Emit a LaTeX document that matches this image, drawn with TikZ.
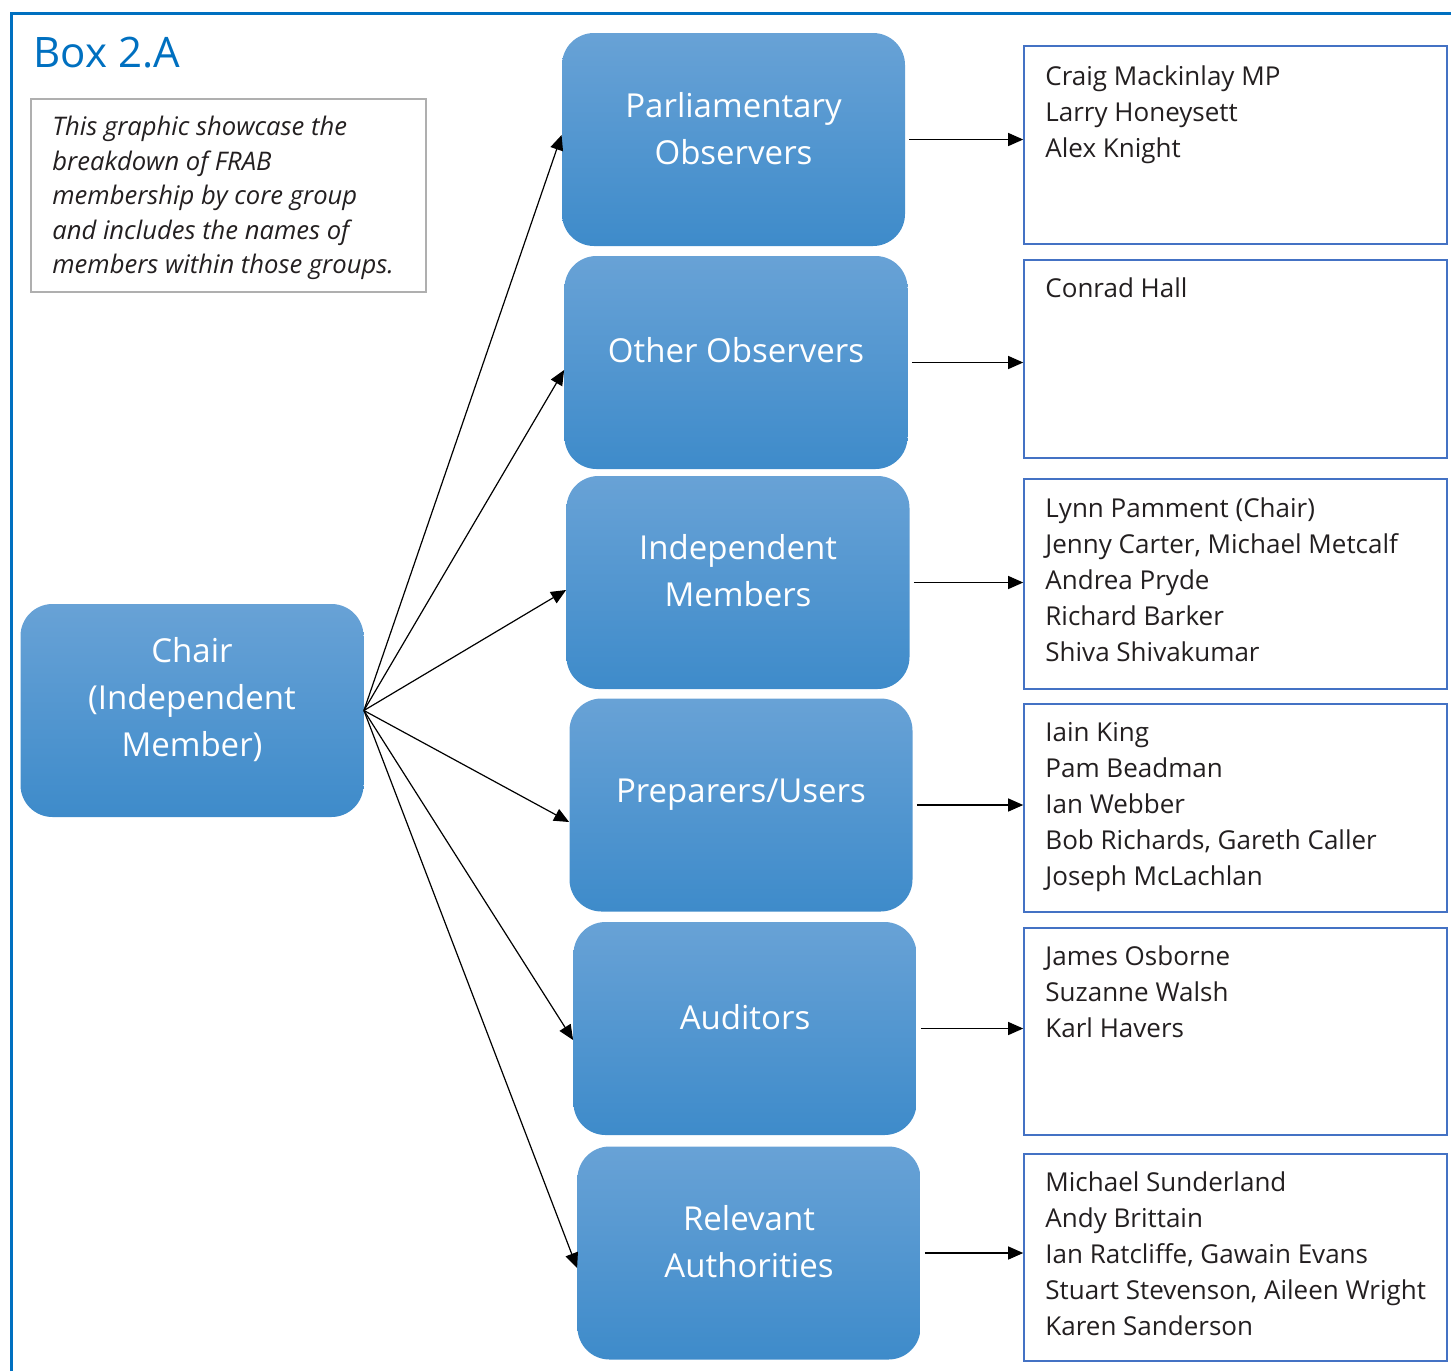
\documentclass[tikz,border=0pt]{standalone}
\usepackage{fontspec}
\setmainfont{Open Sans}
\usetikzlibrary{arrows.meta}

\definecolor{frameblue}{RGB}{0,112,192}
\definecolor{boxtop}{RGB}{104,162,214}
\definecolor{boxbot}{RGB}{62,139,202}
\definecolor{nameline}{RGB}{68,114,196}
\definecolor{descline}{RGB}{175,175,175}
\definecolor{inktext}{RGB}{35,31,32}

\tikzset{
  groupbox/.style={rounded corners=16pt, top color=boxtop, bottom color=boxbot,
    minimum width=171.5pt, minimum height=106.5pt, inner sep=0pt},
  grouptext/.style={text=white, align=center, inner sep=0pt,
    font=\fontsize{16.5}{23.5}\selectfont},
  namebox/.style={draw=nameline, line width=0.8pt, minimum width=211.5pt, inner sep=0pt},
  names/.style={anchor=north west, align=left, inner sep=0pt, text=inktext,
    font=\fontsize{13}{18}\selectfont},
  link/.style={-{Triangle[length=7.5pt,width=6.5pt]}, line width=0.6pt, black},
}

\begin{document}
\begin{tikzpicture}[x=0.5pt, y=-0.5pt]
    \useasboundingbox (0,0) rectangle (1451,1371);
    \draw[frameblue, line width=1.5pt] (11,1371) -- (11,13) -- (1451,13);

    \node[anchor=base west, inner sep=0pt, text=frameblue, font=\fontsize{21}{25}\selectfont] (title) at (33,67) {Box 2.A};
    \node[draw=descline, line width=1pt, minimum width=197.5pt, minimum height=96.5pt] (desc) at (228.5,195.5) {};
    \node[anchor=north west, align=left, inner sep=0pt, text=inktext, font=\itshape\fontsize{12.8}{17.25}\selectfont] (desctxt) at (52,116)
      {This graphic showcase the\\breakdown of FRAB\\membership by core group\\and includes the names of\\members within those groups.};

    \node[groupbox] (chair) at (192,710.5) {};
    \node[grouptext] (chairtxt) at (192,699.5) {Chair\\(Independent\\Member)};

    \node[groupbox] (p1) at (733.5,139.5) {};
    \node[grouptext] (p1txt) at (733.5,128.5) {Parliamentary\\Observers};
    \node[groupbox] (p2) at (736,362.5) {};
    \node[grouptext] (p2txt) at (736,350.5) {Other Observers};
    \node[groupbox] (p3) at (738,582.5) {};
    \node[grouptext] (p3txt) at (738,571) {Independent\\Members};
    \node[groupbox] (p4) at (741,805) {};
    \node[grouptext] (p4txt) at (741,795) {Preparers/Users};
    \node[groupbox] (p5) at (745,1028.5) {};
    \node[grouptext] (p5txt) at (745,1017.5) {Auditors};
    \node[groupbox] (p6) at (749,1253) {};
    \node[grouptext] (p6txt) at (749,1241.5) {Relevant\\Authorities};

    \node[namebox, minimum height=99pt] (n1) at (1235.5,145) {};
    \node[names] (n1txt) at (1045,65) {Craig Mackinlay MP\\Larry Honeysett\\Alex Knight};
    \node[namebox, minimum height=99pt] (n2) at (1235.5,359) {};
    \node[names] (n2txt) at (1045,277) {Conrad Hall};
    \node[namebox, minimum height=105pt] (n3) at (1235.5,584) {};
    \node[names] (n3txt) at (1045,497) {Lynn Pamment (Chair)\\Jenny Carter, Michael Metcalf\\Andrea Pryde\\Richard Barker\\Shiva Shivakumar};
    \node[namebox, minimum height=104pt] (n4) at (1235.5,808) {};
    \node[names] (n4txt) at (1045,722) {Iain King\\Pam Beadman\\Ian Webber\\Bob Richards, Gareth Caller\\Joseph McLachlan};
    \node[namebox, minimum height=103.5pt] (n5) at (1235.5,1031.5) {};
    \node[names] (n5txt) at (1045,945) {James Osborne\\Suzanne Walsh\\Karl Havers};
    \node[namebox, minimum height=103.5pt] (n6) at (1235.5,1257.5) {};
    \node[names] (n6txt) at (1045,1171) {Michael Sunderland\\Andy Brittain\\Ian Ratcliffe, Gawain Evans\\Stuart Stevenson, Aileen Wright\\Karen Sanderson};

    % chair to groups
    \path [link] (chair.east) edge ([yshift=2.25pt]p1.west);
    \path [link] (chair.east) edge ([yshift=-3.75pt]p2.west);
    \path [link] (chair.east) edge ([yshift=-3.75pt]p3.west);
    \path [link] (chair.east) edge ([yshift=-8.5pt]p4.west);
    \path [link] (chair.east) edge ([yshift=-5.75pt]p5.west);
    \path [link] (chair.east) edge ([yshift=-7.5pt]p6.west);

    % groups to names
    \path [link] ([xshift=2pt]p1.east) edge (p1.east -| n1.west);
    \path [link] ([xshift=2pt]p2.east) edge (p2.east -| n2.west);
    \path [link] ([xshift=2pt]p3.east) edge (p3.east -| n3.west);
    \path [link] ([xshift=2pt]p4.east) edge (p4.east -| n4.west);
    \path [link] ([xshift=2pt]p5.east) edge (p5.east -| n5.west);
    \path [link] ([xshift=2pt]p6.east) edge (p6.east -| n6.west);
\end{tikzpicture}
\end{document}
